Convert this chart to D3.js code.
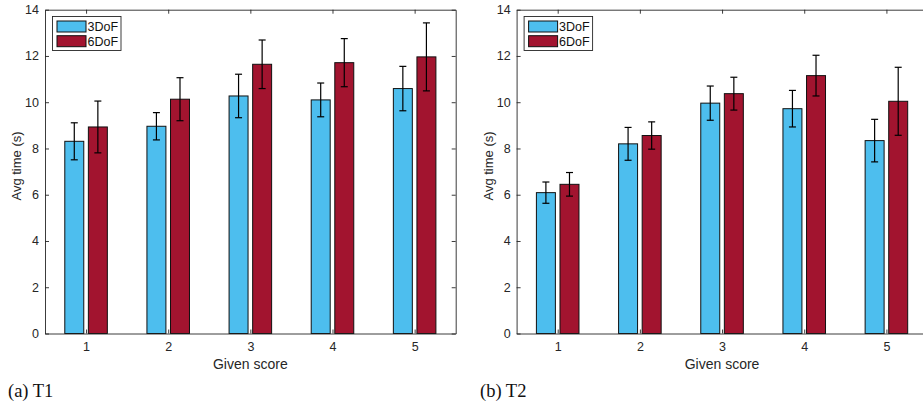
<!DOCTYPE html>
<html>
<head>
<meta charset="utf-8">
<script src="https://cdn.jsdelivr.net/npm/d3@7"></script>
<style>
  body { margin: 0; background: #fff; }
  svg { display: block; }
  .tick text { font-family: "Liberation Sans", Arial, sans-serif; }
</style>
</head>
<body>
<div id="chart"></div>
<script>
// categories
var scores = [1, 2, 3, 4, 5];
var seriesNames = ["3DoF", "6DoF"];

// T1 means and error half-widths
var t1Mean3 = [8.31, 8.96, 10.27, 10.10, 10.59];
var t1Err3  = [0.80, 0.59, 0.94, 0.73, 0.96];
var t1Mean6 = [8.93, 10.13, 11.64, 11.71, 11.96];
var t1Err6  = [1.12, 0.93, 1.05, 1.04, 1.47];

// T2 means and error half-widths
var t2Mean3 = [6.09, 8.20, 9.96, 9.72, 8.34];
var t2Err3  = [0.46, 0.71, 0.74, 0.79, 0.92];
var t2Mean6 = [6.45, 8.56, 10.37, 11.15, 10.04];
var t2Err6  = [0.51, 0.59, 0.71, 0.88, 1.47];

var yTicks = [0, 2, 4, 6, 8, 10, 12, 14];

var colors = ["#4DBEEE", "#A2142F"];
var axisColor = "#262626";
var font = "Liberation Sans, Arial, sans-serif";

var svg = d3.select("#chart").append("svg")
    .attr("width", 923)
    .attr("height", 404);

/**
 * draws one panel of grouped bars with error bars
 */
function drawPanel(left, right, mean3, err3, mean6, err6, caption, captionX) {
    var top = 9.7, bottom = 333.5;

    var x = d3.scaleLinear().domain([0.5, 5.5]).range([left, right]);
    var y = d3.scaleLinear().domain([0, 14]).range([bottom, top]);

    var g = svg.append("g");

    var barW = 0.231, off = 0.1435;
    var rows = [];
    scores.forEach(function (s, i) {
        rows.push({score: s, s: 0, v: mean3[i], e: err3[i]});
        rows.push({score: s, s: 1, v: mean6[i], e: err6[i]});
    });

    // bars
    g.selectAll("rect.bar").data(rows).enter()
        .append("rect")
        .attr("class", "bar")
        .attr("x", function (d) { return x(d.score + (d.s ? off : -off) - barW / 2); })
        .attr("width", function (d) { return x(d.score + barW / 2) - x(d.score - barW / 2); })
        .attr("y", function (d) { return y(d.v); })
        .attr("height", function (d) { return y(0) - y(d.v); })
        .attr("fill", function (d) { return colors[d.s]; })
        .attr("stroke", "#111")
        .attr("stroke-width", 1);

    // error bars
    var eb = g.selectAll("g.err").data(rows).enter().append("g").attr("class", "err");
    function cx(d) { return x(d.score + (d.s ? off : -off)); }
    eb.append("line")
        .attr("x1", cx).attr("x2", cx)
        .attr("y1", function (d) { return y(d.v + d.e); })
        .attr("y2", function (d) { return y(d.v - d.e); })
        .attr("stroke", "#000").attr("stroke-width", 1.2);
    [1, -1].forEach(function (sgn) {
        eb.append("line")
            .attr("x1", function (d) { return cx(d) - 3.5; })
            .attr("x2", function (d) { return cx(d) + 3.5; })
            .attr("y1", function (d) { return y(d.v + sgn * d.e); })
            .attr("y2", function (d) { return y(d.v + sgn * d.e); })
            .attr("stroke", "#000").attr("stroke-width", 1.2);
    });

    // axes (box with inward ticks)
    var xb = g.append("g").attr("transform", "translate(0," + bottom + ")")
        .call(d3.axisBottom(x).tickValues(scores).tickFormat(d3.format("d")).tickSizeInner(-4).tickSizeOuter(0).tickPadding(9));
    var xt = g.append("g").attr("transform", "translate(0," + top + ")")
        .call(d3.axisTop(x).tickValues(scores).tickFormat("").tickSizeInner(-4).tickSizeOuter(0));
    var yl = g.append("g").attr("transform", "translate(" + left + ",0)")
        .call(d3.axisLeft(y).tickValues(yTicks).tickSizeInner(-4).tickSizeOuter(0).tickPadding(6));
    var yr = g.append("g").attr("transform", "translate(" + right + ",0)")
        .call(d3.axisRight(y).tickValues(yTicks).tickFormat("").tickSizeInner(-4).tickSizeOuter(0));

    [xb, xt, yl, yr].forEach(function (a) {
        a.selectAll("path, line").attr("stroke", axisColor).attr("stroke-width", 0.9);
        a.selectAll("text").attr("fill", axisColor).style("font-size", "12.5px").style("font-family", font);
    });

    // axis labels
    g.append("text")
        .attr("transform", "translate(" + (left - 24) + ",166) rotate(-90)")
        .attr("text-anchor", "middle")
        .attr("fill", axisColor)
        .style("font-family", font).style("font-size", "13px")
        .text("Avg time (s)");
    g.append("text")
        .attr("x", x(3)).attr("y", 368.5)
        .attr("text-anchor", "middle")
        .attr("fill", axisColor)
        .style("font-family", font).style("font-size", "14px")
        .text("Given score");

    // legend
    var lg = g.append("g").attr("transform", "translate(" + (left + 7.5) + ",16.5)");
    lg.append("rect").attr("width", 68.5).attr("height", 34)
        .attr("fill", "#fff").attr("stroke", axisColor).attr("stroke-width", 0.9);
    seriesNames.forEach(function (n, i) {
        lg.append("rect")
            .attr("x", 4.5).attr("y", 4.5 + i * 14.7)
            .attr("width", 29).attr("height", 11)
            .attr("fill", colors[i]).attr("stroke", "#111").attr("stroke-width", 1);
        lg.append("text")
            .attr("x", 35).attr("y", 14.5 + i * 14.7)
            .attr("fill", "#111")
            .style("font-family", font).style("font-size", "12.5px")
            .text(n);
    });

    // caption
    svg.append("text")
        .attr("x", captionX).attr("y", 397)
        .attr("fill", "#111")
        .style("font-family", "Liberation Serif, Times New Roman, serif")
        .style("font-size", "18.5px")
        .text(caption);
}

drawPanel(45, 455.7, t1Mean3, t1Err3, t1Mean6, t1Err6, "(a) T1", 8);
drawPanel(516.6, 927.5, t2Mean3, t2Err3, t2Mean6, t2Err6, "(b) T2", 480);
</script>
</body>
</html>
